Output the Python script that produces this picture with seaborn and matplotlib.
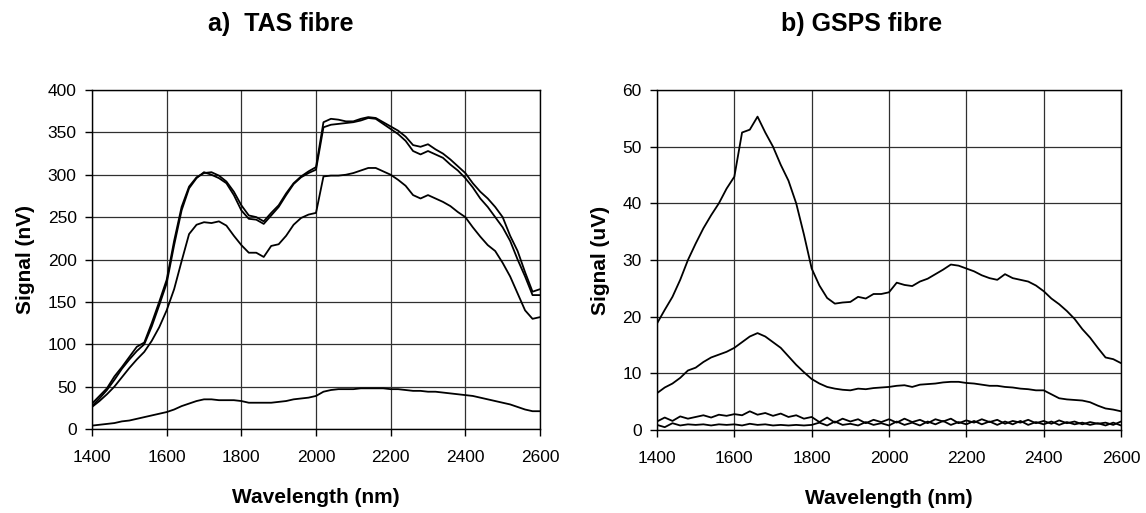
import matplotlib
matplotlib.use("Agg")
import matplotlib.pyplot as plt
import seaborn as sns
import pandas as pd

# ---------------- data ----------------
wavelength = [1400, 1420, 1440, 1460, 1480, 1500, 1520, 1540, 1560, 1580,
              1600, 1620, 1640, 1660, 1680, 1700, 1720, 1740, 1760, 1780,
              1800, 1820, 1840, 1860, 1880, 1900, 1920, 1940, 1960, 1980,
              2000, 2020, 2040, 2060, 2080, 2100, 2120, 2140, 2160, 2180,
              2200, 2220, 2240, 2260, 2280, 2300, 2320, 2340, 2360, 2380,
              2400, 2420, 2440, 2460, 2480, 2500, 2520, 2540, 2560, 2580,
              2600]

# a) TAS fibre, signal (nV)
tas_1 = [30, 39, 48, 62, 73, 85, 97, 102, 125, 150,
         176, 222, 262, 286, 297, 302, 303, 299, 292, 280,
         264, 252, 250, 245, 255, 264, 278, 290, 298, 304,
         309, 362, 366, 365, 363, 363, 366, 368, 367, 362,
         357, 352, 345, 335, 333, 336, 330, 325, 318, 310,
         302, 290, 280, 272, 262, 250, 228, 210, 185, 162,
         165]
tas_2 = [27, 36, 46, 58, 71, 82, 92, 100, 121, 146,
         172, 217, 258, 284, 296, 303, 300, 296, 290, 276,
         258, 248, 247, 242, 252, 262, 276, 289, 297, 302,
         306, 356, 359, 360, 361, 362, 364, 367, 366, 360,
         354, 348, 340, 328, 324, 328, 324, 320, 312, 305,
         296, 285, 272, 262, 250, 238, 222, 200, 180, 158,
         158]
tas_3 = [26, 33, 41, 50, 61, 72, 82, 91, 104, 120,
         140, 165, 198, 230, 241, 244, 243, 245, 240, 228,
         217, 208, 208, 203, 216, 218, 228, 241, 249, 253,
         255, 298, 299, 299, 300, 302, 305, 308, 308, 304,
         300, 294, 287, 276, 272, 276, 272, 268, 263, 256,
         250, 238, 227, 217, 210, 196, 180, 160, 140, 130,
         132]
tas_4 = [4, 5, 6, 7, 9, 10, 12, 14, 16, 18,
         20, 23, 27, 30, 33, 35, 35, 34, 34, 34,
         33, 31, 31, 31, 31, 32, 33, 35, 36, 37,
         39, 44, 46, 47, 47, 47, 48, 48, 48, 48,
         47, 47, 46, 45, 45, 44, 44, 43, 42, 41,
         40, 39, 37, 35, 33, 31, 29, 26, 23, 21,
         21]

# b) GSPS fibre, signal (uV)
gsps_1 = [18.8, 21.2, 23.5, 26.5, 30.0, 32.9, 35.6, 37.9, 40.0, 42.6,
          44.7, 52.5, 53.0, 55.3, 52.5, 50.0, 46.8, 44.0, 40.0, 34.5,
          28.5, 25.5, 23.3, 22.3, 22.5, 22.6, 23.5, 23.2, 24.0, 24.0,
          24.3, 26.0, 25.6, 25.4, 26.2, 26.7, 27.5, 28.3, 29.2, 29.0,
          28.5, 28.0, 27.3, 26.8, 26.5, 27.5, 26.8, 26.5, 26.2, 25.5,
          24.5, 23.2, 22.2, 21.0, 19.6, 17.8, 16.3, 14.5, 12.8, 12.5,
          11.8]
gsps_2 = [6.5, 7.5, 8.2, 9.2, 10.5, 11.0, 12.0, 12.8, 13.3, 13.8,
          14.5, 15.5, 16.5, 17.1, 16.5, 15.5, 14.5, 13.0, 11.5, 10.2,
          9.0, 8.2, 7.6, 7.3, 7.1, 7.0, 7.3, 7.2, 7.4, 7.5,
          7.6, 7.8, 7.9, 7.6, 8.0, 8.1, 8.2, 8.4, 8.5, 8.5,
          8.3, 8.2, 8.0, 7.8, 7.8, 7.6, 7.5, 7.3, 7.2, 7.0,
          7.0, 6.3, 5.6, 5.4, 5.3, 5.2, 4.9, 4.3, 3.8, 3.6,
          3.3]
gsps_3 = [1.5, 2.2, 1.6, 2.4, 2.0, 2.3, 2.6, 2.2, 2.7, 2.5,
          2.8, 2.6, 3.3, 2.7, 3.0, 2.5, 2.9, 2.3, 2.6, 2.0,
          2.3, 1.4, 2.2, 1.3, 2.0, 1.5, 1.9, 1.2, 1.8, 1.4,
          1.9, 1.3, 2.0, 1.4, 1.8, 1.2, 1.9, 1.5, 2.0, 1.2,
          1.7, 1.3, 1.9, 1.4, 1.8, 1.1, 1.6, 1.3, 1.8, 1.2,
          1.6, 1.1, 1.7, 1.2, 1.5, 1.0, 1.4, 1.1, 1.3, 0.9,
          1.5]
gsps_4 = [0.9, 0.5, 1.2, 0.8, 1.0, 0.9, 1.0, 0.8, 1.0, 0.9,
          1.0, 0.8, 1.1, 0.9, 1.0, 0.8, 0.9, 0.8, 0.9, 0.8,
          0.9, 1.3, 0.8, 1.5, 0.9, 1.1, 0.8, 1.4, 0.9, 1.2,
          0.8, 1.5, 0.9, 1.3, 0.8, 1.5, 1.0, 1.6, 0.9, 1.4,
          1.0, 1.6, 1.0, 1.5, 0.9, 1.5, 1.0, 1.6, 0.9, 1.4,
          1.0, 1.5, 0.9, 1.4, 1.0, 1.3, 0.9, 1.2, 0.8, 1.3,
          0.8]

x_ticks = [1400, 1600, 1800, 2000, 2200, 2400, 2600]
y_ticks_a = [0, 50, 100, 150, 200, 250, 300, 350, 400]
y_ticks_b = [0, 10, 20, 30, 40, 50, 60]

# ---------------- style ----------------
sns.set_style("white")
plt.rcParams["font.family"] = ["Liberation Sans", "DejaVu Sans"]
plt.rcParams["text.color"] = "black"
plt.rcParams["axes.labelcolor"] = "black"
plt.rcParams["xtick.color"] = "black"
plt.rcParams["ytick.color"] = "black"
plt.rcParams["xtick.bottom"] = True
plt.rcParams["ytick.left"] = True
plt.rcParams["xtick.major.size"] = 5
plt.rcParams["ytick.major.size"] = 5
plt.rcParams["xtick.major.width"] = 1
plt.rcParams["ytick.major.width"] = 1

fig = plt.figure(figsize=(11.46, 5.13), dpi=100)
ax_a = fig.add_axes([92 / 1146, 1 - 429 / 513, 448 / 1146, 339 / 513])
ax_b = fig.add_axes([657 / 1146, 1 - 430 / 513, 464 / 1146, 340 / 513])


def long_frame(series_list):
    frames = []
    for i, s in enumerate(series_list):
        frames.append(pd.DataFrame({"wavelength": wavelength, "signal": s, "run": f"r{i}"}))
    return pd.concat(frames, ignore_index=True)


df_a = long_frame([tas_1, tas_2, tas_3, tas_4])
df_b = long_frame([gsps_1, gsps_2, gsps_3, gsps_4])

for ax, df, yt, ylab in [(ax_a, df_a, y_ticks_a, "Signal (nV)"),
                         (ax_b, df_b, y_ticks_b, "Signal (uV)")]:
    sns.lineplot(data=df, x="wavelength", y="signal", units="run", estimator=None,
                 color="black", linewidth=1.3, ax=ax, legend=False, zorder=3)
    ax.set_xlim(1400, 2600)
    ax.set_ylim(yt[0], yt[-1])
    ax.set_xticks(x_ticks)
    ax.set_yticks(yt)
    ax.grid(True, color="#303030", linewidth=0.9, zorder=0)
    ax.set_axisbelow(True)
    for sp in ax.spines.values():
        sp.set_color("black")
        sp.set_linewidth(1.0)
        sp.set_visible(True)
    ax.tick_params(axis="both", which="major", direction="out", length=5, width=1,
                   color="black", labelsize=12.5, labelcolor="black",
                   bottom=True, left=True, top=False, right=False)
    ax.tick_params(axis="x", pad=10)
    ax.tick_params(axis="y", pad=6)
    ax.set_xlabel("Wavelength (nm)", fontsize=15, fontweight="bold", labelpad=17,
                  color="black")
    ax.set_ylabel(ylab, fontsize=15, fontweight="bold", labelpad=9, color="black")

fig.text(281 / 1146, 1 - 24 / 513, "a)  TAS fibre", ha="center", va="center",
         fontsize=18, fontweight="bold", color="black")
fig.text(862 / 1146, 1 - 24 / 513, "b) GSPS fibre", ha="center", va="center",
         fontsize=18, fontweight="bold", color="black")

fig.savefig("out.png", dpi=100, facecolor="white")
